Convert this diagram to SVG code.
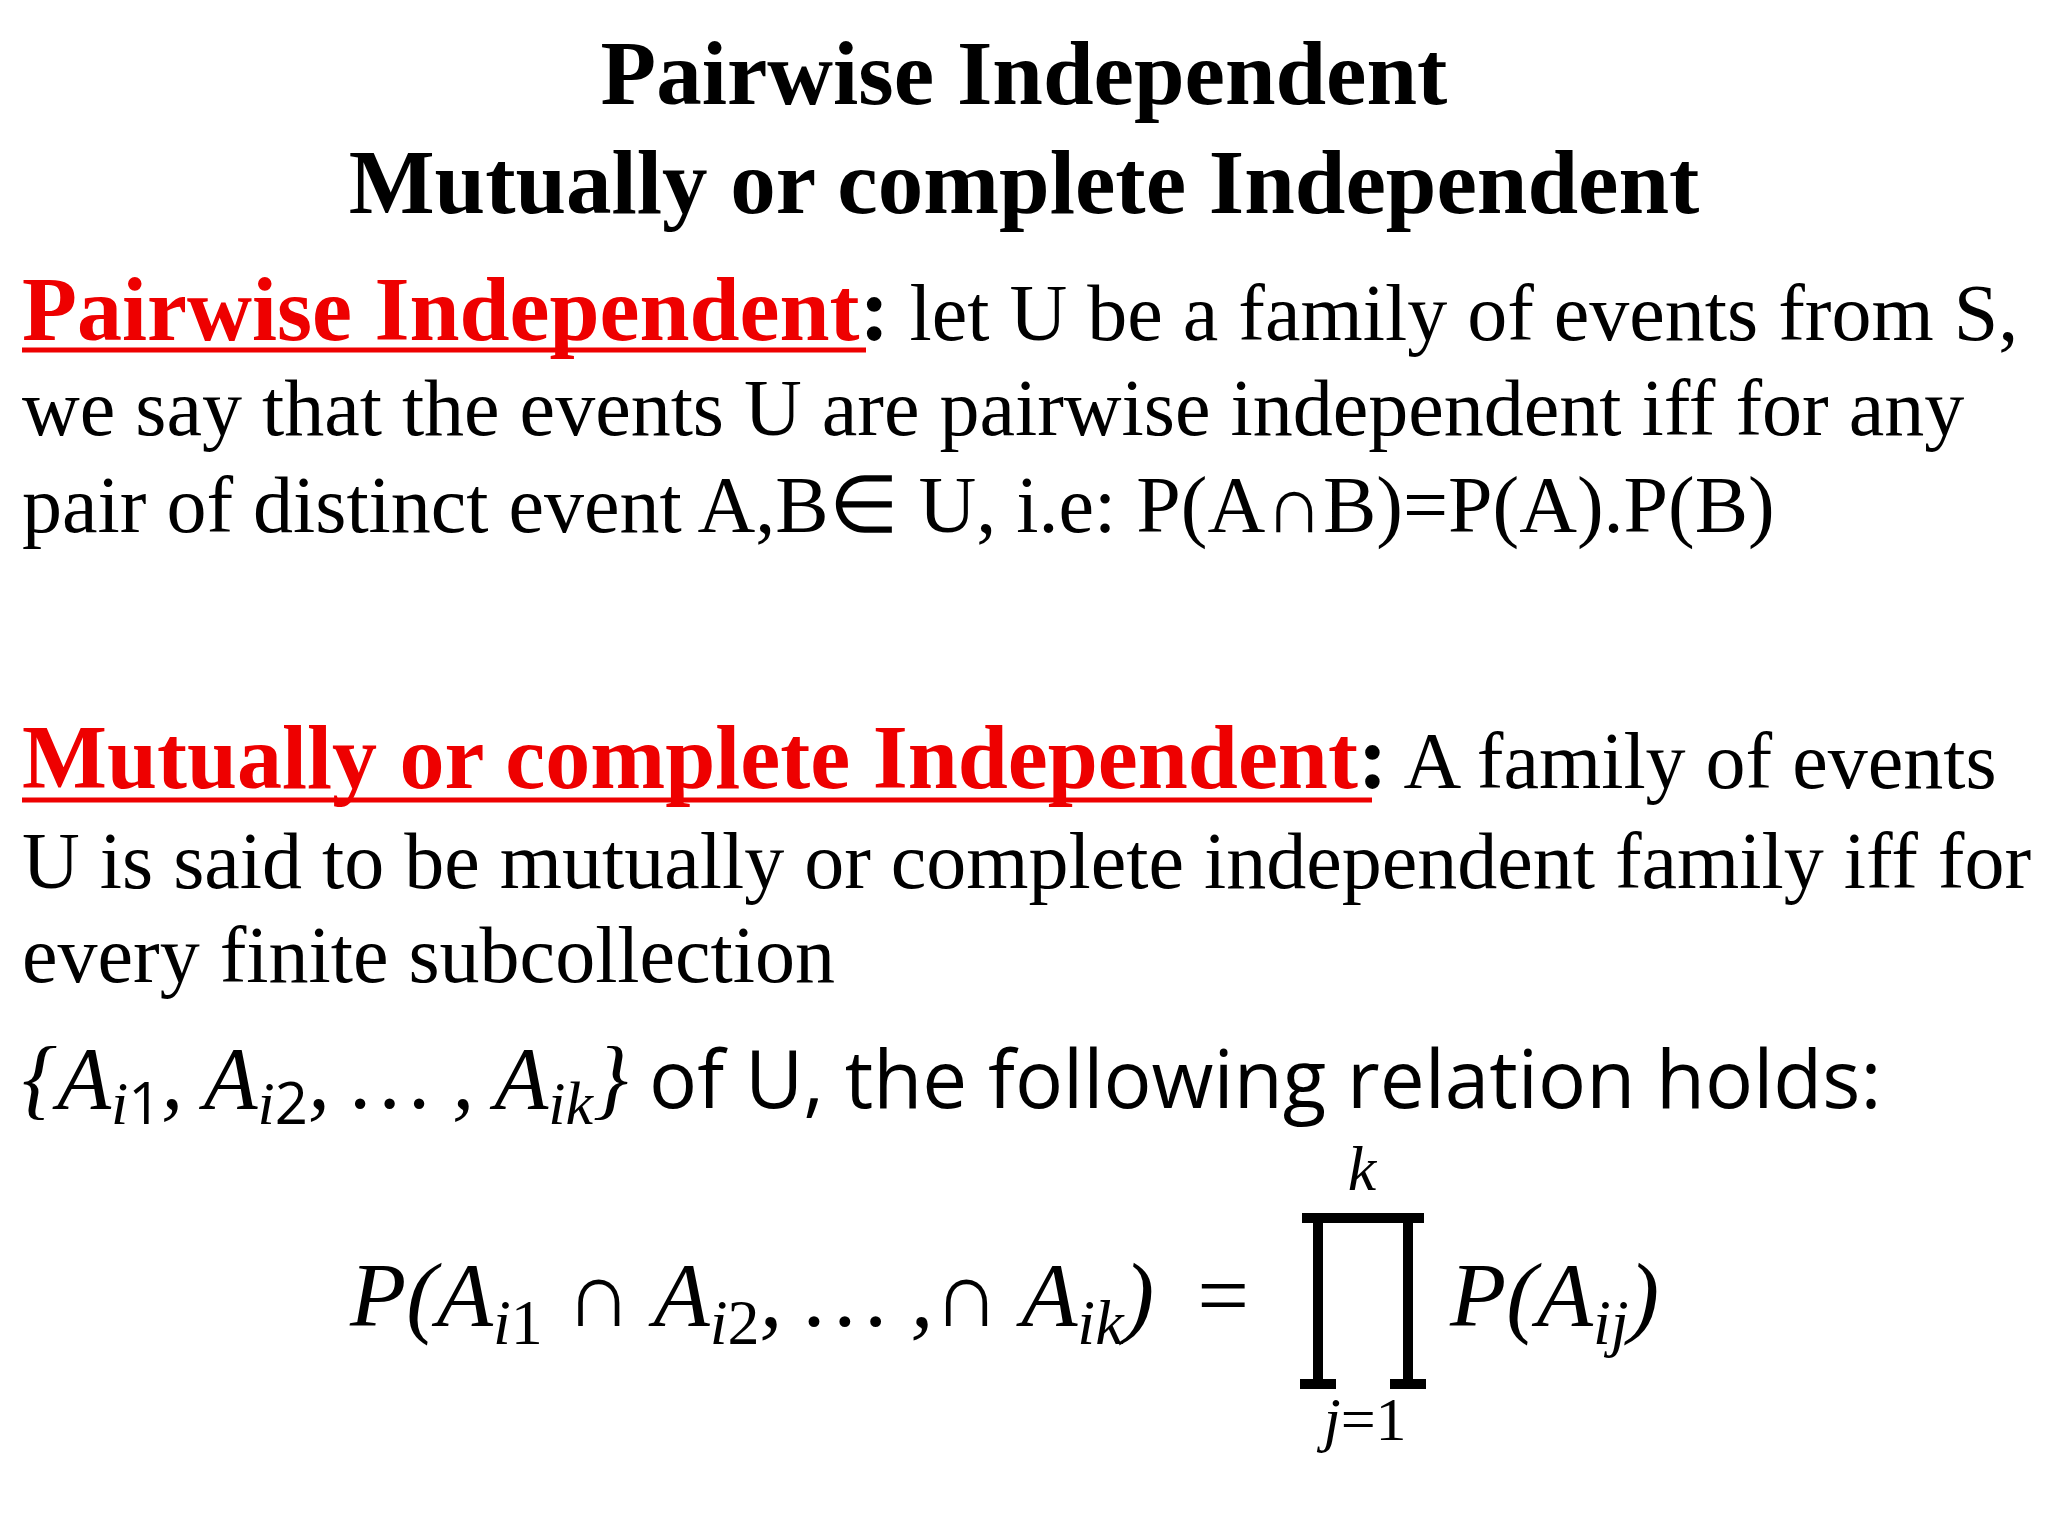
<svg xmlns="http://www.w3.org/2000/svg" width="2048" height="1536" viewBox="0 0 2048 1536">
<style>
.t{font-family:"Liberation Serif",serif;fill:#000}
.h{font-family:"Liberation Serif",serif;font-weight:bold;fill:#000;font-size:91px}
.r{font-family:"Liberation Serif",serif;font-weight:bold;fill:#e00;font-size:90px}
.b{font-size:80px}
.s{font-family:"Open Sans","Liberation Sans",sans-serif;font-size:80px;fill:#000}
.m{font-family:"Liberation Serif",serif;font-style:italic;fill:#000}
</style>
<rect width="2048" height="1536" fill="#fff"/>
<g id="title">
<text class="h" x="1024" y="104" text-anchor="middle">Pairwise Independent</text>
<text class="h" x="1024" y="213" text-anchor="middle">Mutually or complete Independent</text>
</g>
<g id="pairwise">
<text class="t b" x="22" y="340"><tspan class="r">Pairwise Independent</tspan><tspan font-weight="bold" font-size="90">:</tspan> let U be a family of events from S,</text>
<line x1="22" y1="350" x2="866" y2="350" stroke="#e00" stroke-width="5"/>
<text class="t b" x="22" y="435">we say that the events U are pairwise independent iff for any</text>
<text class="t b" x="22" y="532">pair of distinct event A,B∈ U, i.e: P(A∩B)=P(A).P(B)</text>
</g>
<g id="mutual">
<text class="t b" x="22" y="788"><tspan class="r">Mutually or complete Independent</tspan><tspan font-weight="bold" font-size="90">:</tspan> A family of events</text>
<line x1="22" y1="800" x2="1372" y2="800" stroke="#e00" stroke-width="5"/>
<text class="t b" x="22" y="888">U is said to be mutually or complete independent family iff for</text>
<text class="t b" x="22" y="982">every finite subcollection</text>
<text class="s" x="22" y="1108"><tspan class="m" font-size="88">{A</tspan><tspan class="m" font-size="62" dy="16">i</tspan><tspan font-size="58">1</tspan><tspan class="m" font-size="88" dy="-16">, A</tspan><tspan class="m" font-size="62" dy="16">i</tspan><tspan font-size="58">2</tspan><tspan class="m" font-size="88" dy="-16">, … , A</tspan><tspan class="m" font-size="62" dy="16">ik</tspan><tspan class="m" font-size="88" dy="-16">}</tspan> of U, the following relation holds:</text>
</g>
<g id="formula">
<text class="m" x="350" y="1326" font-size="92">P(A<tspan font-size="64" dy="18">i</tspan><tspan font-style="normal" font-size="64">1</tspan><tspan dy="-18"> ∩ A</tspan><tspan font-size="64" dy="18">i</tspan><tspan font-style="normal" font-size="64">2</tspan><tspan dy="-18">, … ,∩ A</tspan><tspan font-size="64" dy="18">ik</tspan><tspan dy="-18">) </tspan><tspan font-style="normal" dx="20">=</tspan></text>
<path d="M1302 1218 H1424 M1318 1218 V1384 M1408 1218 V1384 M1300 1384 H1336 M1390 1384 H1426" stroke="#000" stroke-width="10" fill="none"/>
<text class="m" x="1362" y="1190" font-size="64" text-anchor="middle">k</text>
<text class="m" x="1365" y="1440" font-size="62" text-anchor="middle">j<tspan font-style="normal">=1</tspan></text>
<text class="m" x="1450" y="1326" font-size="92">P(A<tspan font-size="64" dy="18">ij</tspan><tspan dy="-18">)</tspan></text>
</g>
</svg>
